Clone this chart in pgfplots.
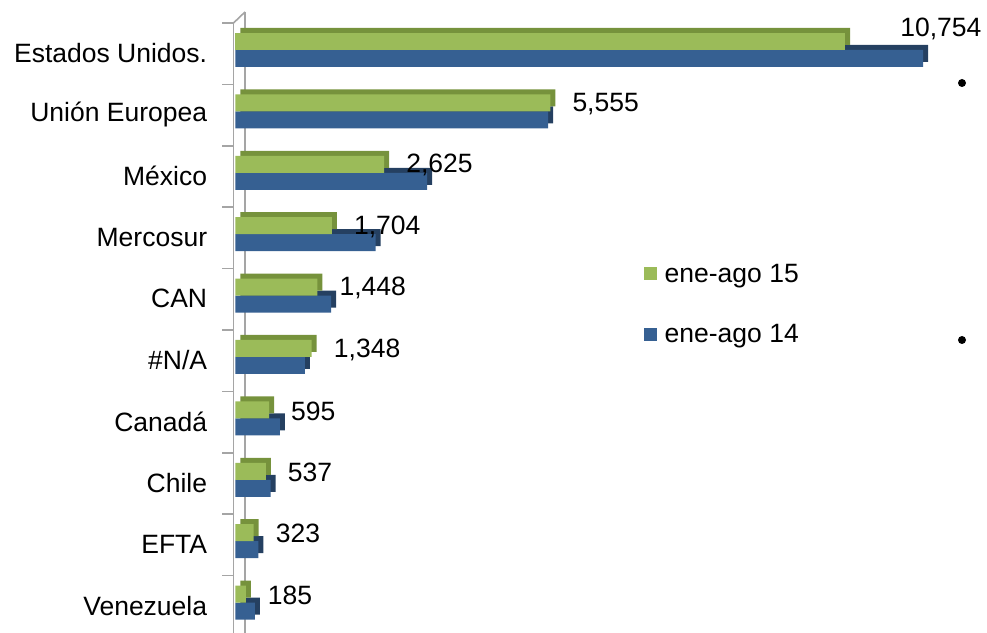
\documentclass[border=0pt]{standalone}
\usepackage{fontspec}
\setmainfont{Liberation Sans}
\usepackage{pgfplots}
\pgfplotsset{compat=1.18}
\definecolor{gfront}{RGB}{155,187,89}
\definecolor{gside}{RGB}{118,146,60}
\definecolor{bfront}{RGB}{54,96,146}
\definecolor{bside}{RGB}{37,64,97}
\definecolor{wall}{RGB}{165,165,165}
\newcommand{\lbl}{\fontsize{26.5bp}{31bp}\selectfont}
\begin{document}
\begin{tikzpicture}[font=\lbl]
\useasboundingbox (0,0) rectangle (987bp,633bp);
% 3-D wall at the left
\draw[wall, line width=1.6bp] (245bp,621bp) -- (245bp,0bp);
\draw[wall, line width=1.6bp] (222bp,610bp) -- (233.5bp,610bp) -- (245bp,621bp);
\draw[wall, line width=1.6bp] (233.5bp,610bp) -- (233.5bp,0bp);
\foreach \k in {1,...,9}
  \draw[wall, line width=1.6bp] (222bp,{(610-61.4*\k)*1bp}) -- (233.5bp,{(610-61.4*\k)*1bp});
\begin{axis}[
    at={(235.3bp,-3.3bp)}, anchor=south west,
    scale only axis, width=704.3bp, height=614bp,
    xmin=0, xmax=12420, ymin=-0.5, ymax=9.5,
    clip=false,
    axis x line=none, axis y line*=left,
    y axis line style={draw=none},
    xtick=\empty,
    ytick={0,...,9},
    yticklabels={Venezuela,EFTA,Chile,Canadá,\#N/A,CAN,Mercosur\ ,México,Unión Europea,Estados Unidos.},
    major tick length=0pt,
    ytick style={draw=none},
    yticklabel style={font=\lbl, anchor=east, inner sep=0pt, xshift=-28bp},
    /pgf/number format/assume math mode=true,
    xbar, bar width=17bp,
    point meta=x,
    legend style={draw=none, fill=none, at={(0.5796,0.607)}, anchor=north west,
      inner sep=0pt, row sep=41bp, font=\lbl, nodes={inner sep=0pt},
      /tikz/column sep=8bp},
    legend cell align=left,
    legend image code/.code={\fill (0bp,-6.5bp) rectangle (13bp,6.5bp);},
]
% ene-ago 14
\addplot[fill=bside, draw=none, bar shift=-5.5bp, xshift=5bp, yshift=5bp, forget plot] coordinates {
 (12130,9) (5515,8) (3381,7) (2476,6) (1688,5) (1229,4) (788,3) (624,2) (406,1) (347,0)};
\addplot[fill=bfront, draw=none, bar shift=-5.5bp, forget plot] coordinates {
 (12130,9) (5515,8) (3381,7) (2476,6) (1688,5) (1229,4) (788,3) (624,2) (406,1) (347,0)};
% ene-ago 15
\addplot[fill=gside, draw=none, bar shift=11.5bp, xshift=5bp, yshift=5bp, forget plot] coordinates {
 (10754,9) (5555,8) (2625,7) (1704,6) (1448,5) (1348,4) (595,3) (537,2) (323,1) (185,0)};
\addplot[fill=gfront, draw=none, bar shift=11.5bp, forget plot,
    nodes near coords={\pgfmathprintnumber[fixed,precision=0,1000 sep={,}]{\pgfplotspointmeta}},
    nodes near coords style={anchor=west, inner sep=0pt, xshift=22bp, yshift=-1bp, font=\lbl, text=black}]
 coordinates {(5555,8) (2625,7) (1704,6) (1448,5) (1348,4) (595,3) (537,2) (323,1) (185,0)};
\addplot[fill=gfront, draw=none, bar shift=11.5bp, forget plot,
    nodes near coords={\pgfmathprintnumber[fixed,precision=0,1000 sep={,}]{\pgfplotspointmeta}},
    nodes near coords style={anchor=west, inner sep=0pt, xshift=55bp, yshift=12.5bp, font=\lbl, text=black}]
 coordinates {(10754,9)};
\addlegendimage{fill=gfront, draw=none}
\addlegendentry{ene-ago 15}
\addlegendimage{fill=bfront, draw=none}
\addlegendentry{ene-ago 14}
\end{axis}
\fill (962bp,550bp) circle (4bp);
\fill (962bp,293bp) circle (4bp);
\end{tikzpicture}
\end{document}
